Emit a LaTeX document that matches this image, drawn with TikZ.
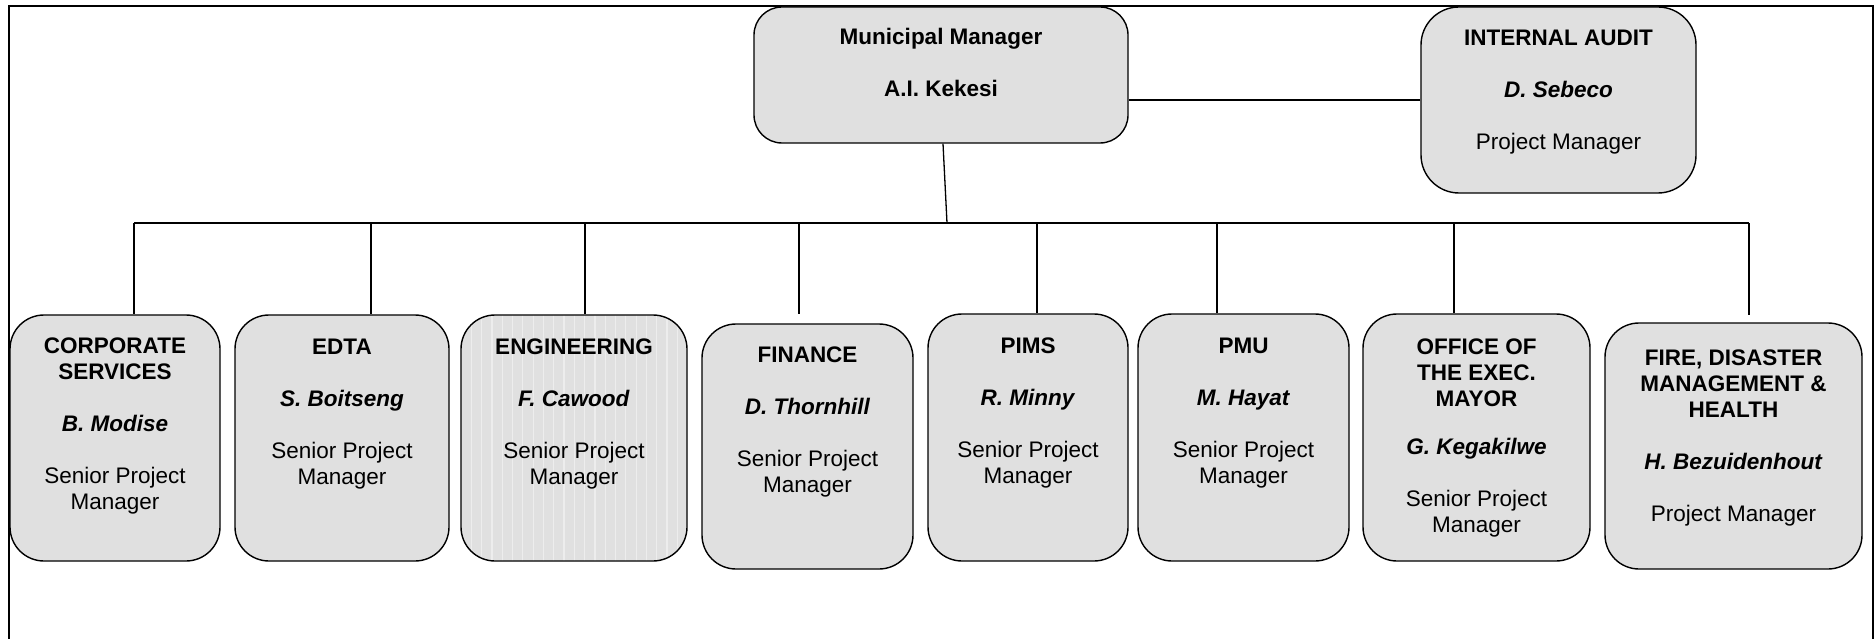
\documentclass[tikz,border=0pt]{standalone}
\usepackage{fontspec}
\setmainfont{Liberation Sans}
\usetikzlibrary{calc}
\definecolor{boxfill}{RGB}{224,224,224}
\definecolor{stripe}{RGB}{237,237,237}
\begin{document}
\begin{tikzpicture}[x=1pt,y=1pt,
  box/.style={draw=black, line width=1.4pt, fill=boxfill, rounded corners=34pt, inner sep=0pt},
  txt/.style={align=center, inner sep=0pt, anchor=north, font=\fontsize{22.5}{26}\selectfont},
  conn/.style={draw=black, line width=1.3pt},
  striped/.style={path picture={\foreach \i in {1,...,22}{\draw[stripe, line width=1.2pt] ([xshift=\i*10.3pt]path picture bounding box.south west) -- ([xshift=\i*10.3pt]path picture bounding box.north west);}}}
]
\useasboundingbox (0,0) rectangle (1876,-639);
% frame
\draw[conn] (9,-639) -- (9,-6) -- (1873,-6) -- (1873,-639);

% top boxes
\node[box, rounded corners=28pt, minimum width=374pt, minimum height=136pt] (mm) at (941,-75) {};
\node[txt] at ([yshift=-19.8pt]mm.north) {\strut\textbf{Municipal Manager}\\[26pt]\textbf{A.I. Kekesi}};

\node[box, rounded corners=38pt, minimum width=275pt, minimum height=186pt] (ia) at (1558.5,-100) {};
\node[txt] at ([yshift=-20.8pt]ia.north) {\strut\textbf{INTERNAL AUDIT}\\[26pt]\textbf{\textit{D. Sebeco}}\\[26pt]Project Manager};

% bottom boxes
\node[box, minimum width=210pt, minimum height=246pt] (corp) at (115,-438) {};
\node[txt] at ([yshift=-20.8pt]corp.north) {\strut\textbf{CORPORATE}\\\textbf{SERVICES}\\[26pt]\textbf{\textit{B. Modise}}\\[26pt]Senior Project\\Manager};

\node[box, minimum width=214pt, minimum height=246pt] (edta) at (342,-438) {};
\node[txt] at ([yshift=-21.8pt]edta.north) {\strut\textbf{EDTA}\\[26pt]\textbf{\textit{S. Boitseng}}\\[26pt]Senior Project\\Manager};

\node[box, striped, minimum width=226pt, minimum height=246pt] (eng) at (574,-438) {};
\node[txt] at ([yshift=-21.8pt]eng.north) {\strut\textbf{ENGINEERING}\\[26pt]\textbf{\textit{F. Cawood}}\\[26pt]Senior Project\\Manager};

\node[box, minimum width=211pt, minimum height=245pt] (fin) at (807.5,-446.5) {};
\node[txt] at ([yshift=-20.8pt]fin.north) {\strut\textbf{FINANCE}\\[26pt]\textbf{\textit{D. Thornhill}}\\[26pt]Senior Project\\Manager};

\node[box, minimum width=200pt, minimum height=247pt] (pims) at (1028,-437.5) {};
\node[txt] at ([yshift=-21.8pt]pims.north) {\strut\textbf{PIMS}\\[26pt]\textbf{\textit{R. Minny}}\\[26pt]Senior Project\\Manager};

\node[box, minimum width=211pt, minimum height=247pt] (pmu) at (1243.5,-437.5) {};
\node[txt] at ([yshift=-21.8pt]pmu.north) {\strut\textbf{PMU}\\[26pt]\textbf{\textit{M. Hayat}}\\[26pt]Senior Project\\Manager};

\node[box, minimum width=227pt, minimum height=247pt] (office) at (1476.5,-437.5) {};
\node[txt] at ([yshift=-22.8pt]office.north) {\strut\textbf{OFFICE OF}\\\textbf{THE EXEC.}\\\textbf{MAYOR}\\[22pt]\textbf{\textit{G. Kegakilwe}}\\[26pt]Senior Project\\Manager};

\node[box, minimum width=257pt, minimum height=246pt] (fire) at (1733.5,-446) {};
\node[txt] at ([yshift=-24.8pt]fire.north) {\strut\textbf{FIRE, DISASTER}\\\textbf{MANAGEMENT \&}\\\textbf{HEALTH}\\[26pt]\textbf{\textit{H. Bezuidenhout}}\\[26pt]Project Manager};

% connectors
\draw[conn] (ia.west) -- (ia.west -| mm.east);
\coordinate (mmdrop) at (947,-223);
\draw[conn] ([xshift=2pt]mm.south) -- (mmdrop);
\coordinate (tcorp) at (134,-223);
\coordinate (tedta) at (371,-223);
\coordinate (teng) at (585,-223);
\coordinate (tfin) at (799,-223);
\coordinate (efin) at (799,-314);
\coordinate (tpims) at (1037,-223);
\coordinate (tpmu) at (1217,-223);
\coordinate (toffice) at (1454,-223);
\coordinate (tfire) at (1749,-223);
\coordinate (efire) at (1749,-315);
\draw[conn] (tcorp) -- (tfire);
\draw[conn] (tcorp) -- (tcorp |- corp.north);
\draw[conn] (tedta) -- (tedta |- edta.north);
\draw[conn] (teng) -- (teng |- eng.north);
\draw[conn] (tfin) -- (efin);
\draw[conn] (tpims) -- (tpims |- pims.north);
\draw[conn] (tpmu) -- (tpmu |- pmu.north);
\draw[conn] (toffice) -- (toffice |- office.north);
\draw[conn] (tfire) -- (efire);
\end{tikzpicture}
\end{document}
